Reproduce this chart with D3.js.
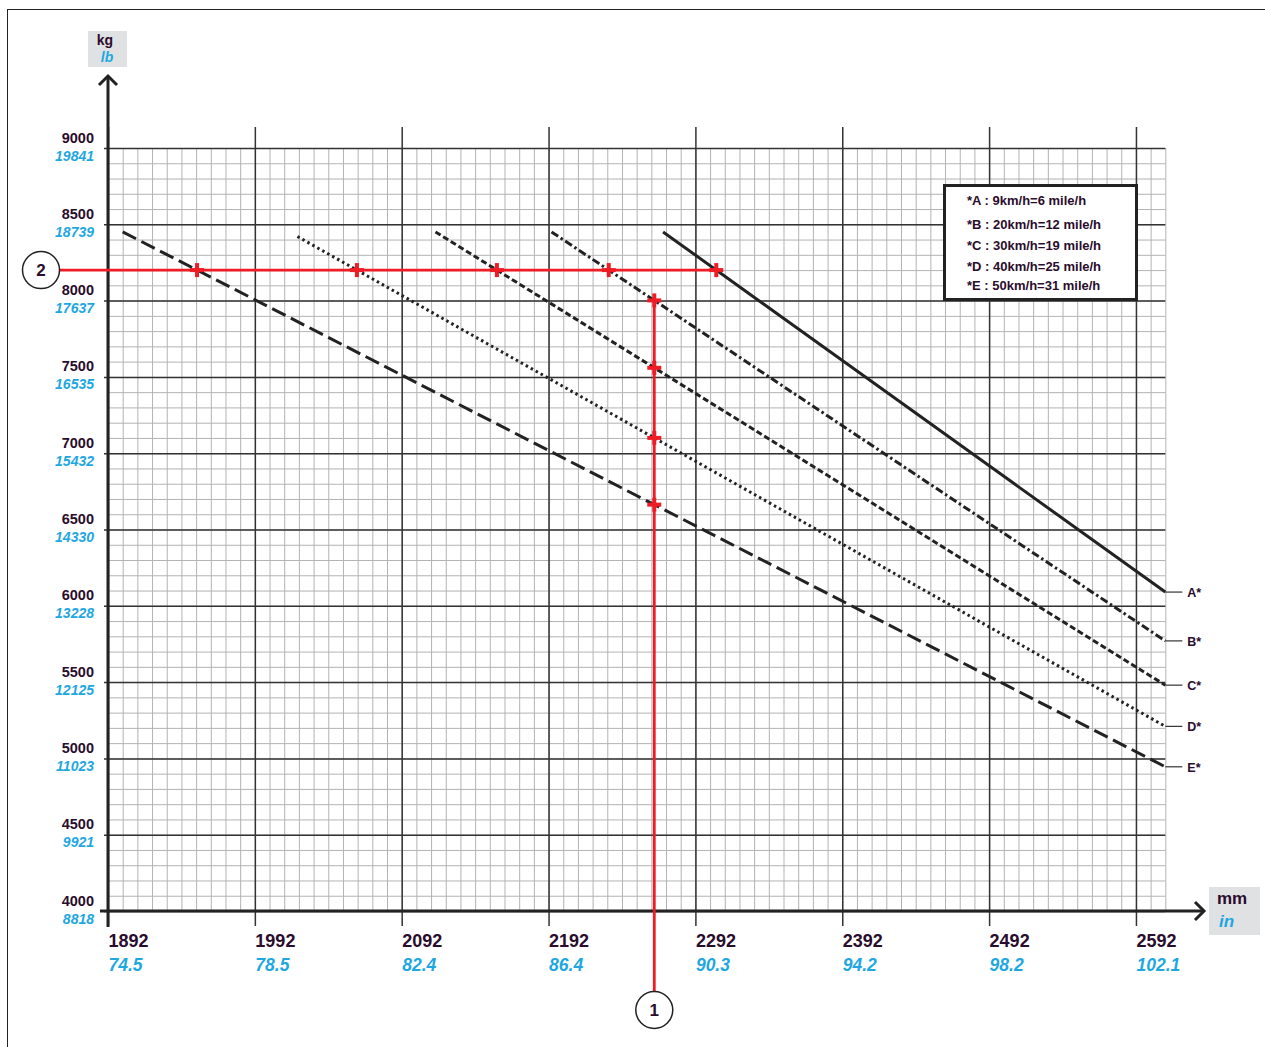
<!DOCTYPE html>
<html>
<head>
<meta charset="utf-8">
<script src="https://cdn.jsdelivr.net/npm/d3@7"></script>
<style>
  body { margin: 0; background: #fff; }
  svg { display: block; font-family: "Liberation Sans", Arial, sans-serif; }
</style>
</head>
<body>
<div id="my_dataviz"></div>
<script>
// tick labels (mm / inch on x, kg / lb on y)
var mmTicks = [1892, 1992, 2092, 2192, 2292, 2392, 2492, 2592];
var inTicks = ["74.5", "78.5", "82.4", "86.4", "90.3", "94.2", "98.2", "102.1"];
var kgTicks = [4000, 4500, 5000, 5500, 6000, 6500, 7000, 7500, 8000, 8500, 9000];
var lbTicks = ["8818", "9921", "11023", "12125", "13228", "14330", "15432", "16535", "17637", "18739", "19841"];

// speed curves (start / end points in mm, kg)
var seriesNames = ["A*", "B*", "C*", "D*", "E*"];
var legendLabels = ["*A : 9km/h=6 mile/h", "*B : 20km/h=12 mile/h", "*C : 30km/h=19 mile/h",
                    "*D : 40km/h=25 mile/h", "*E : 50km/h=31 mile/h"];
var startMm = [2270, 2194, 2115, 2021, 1902];
var startKg = [8450, 8450, 8450, 8420, 8450];
var endMm = [2612, 2612, 2612, 2612, 2612];
var endKg = [6090, 5770, 5480, 5210, 4945];

// example reading (red lines)
var readKg = 8200;
var readMm = 2264;

var width = 1265, height = 1047;
var dark = "#2a0c2c", blue = "#1ea7e1", red = "#ee1c25", ink = "#222";

var svg = d3.select("#my_dataviz").append("svg")
    .attr("width", width).attr("height", height);

// outer frame
svg.append("rect").attr("x", 7.5).attr("y", 9.5).attr("width", 1300).attr("height", 1100)
    .attr("fill", "none").attr("stroke", ink).attr("stroke-width", 1);

var x = d3.scaleLinear().domain([1892, 2612]).range([108, 108 + 720 * 1.4685]);
var y = d3.scaleLinear().domain([4000, 9000]).range([911, 148]);

var gridTop = y(9000), gridBottom = y(4000), gridLeft = x(1892), gridRight = x(2612);

// minor grid
var minorX = d3.range(1892, 2613, 10);
var minorY = d3.range(4000, 9001, 100);
svg.append("g").attr("transform", "translate(0," + gridBottom + ")")
    .call(d3.axisBottom(x).tickValues(minorX).tickSize(-(gridBottom - gridTop)).tickFormat(""))
    .call(function (g) {
        g.select(".domain").remove();
        g.selectAll("line").attr("stroke", "#b3b3b3").attr("stroke-width", 1);
    });
svg.append("g").attr("transform", "translate(" + gridLeft + ",0)")
    .call(d3.axisLeft(y).tickValues(minorY).tickSize(-(gridRight - gridLeft)).tickFormat(""))
    .call(function (g) {
        g.select(".domain").remove();
        g.selectAll("line").attr("stroke", "#b3b3b3").attr("stroke-width", 1);
    });

// major grid + tick labels on y
var yAxis = svg.append("g").attr("transform", "translate(" + gridLeft + ",0)")
    .call(d3.axisLeft(y).tickValues(kgTicks).tickSize(0).tickFormat(d3.format("d")));
yAxis.select(".domain").remove();
yAxis.selectAll(".tick line")
    .attr("x1", -4).attr("x2", gridRight - gridLeft)
    .attr("stroke", "#333").attr("stroke-width", 1.5);
yAxis.selectAll(".tick text")
    .attr("x", -14).attr("dy", null).attr("y", -6)
    .attr("fill", dark).style("font-size", "14.5px").style("font-weight", "bold")
    .style("font-family", "'Liberation Sans', Arial, sans-serif");
yAxis.selectAll(".tick").append("text")
    .attr("x", -14).attr("y", 12).attr("text-anchor", "end")
    .attr("fill", blue).style("font-size", "14px").style("font-weight", "bold").style("font-style", "italic")
    .style("font-family", "'Liberation Sans', Arial, sans-serif")
    .text(function (d, i) { return lbTicks[i]; });

// major grid + tick labels on x
var xAxis = svg.append("g").attr("transform", "translate(0," + gridBottom + ")")
    .call(d3.axisBottom(x).tickValues(mmTicks).tickSize(0).tickFormat(d3.format("d")));
xAxis.select(".domain").remove();
xAxis.selectAll(".tick line")
    .attr("y1", 15).attr("y2", -(gridBottom - gridTop) - 21)
    .attr("stroke", "#333").attr("stroke-width", 1.5);
xAxis.selectAll(".tick text")
    .attr("y", 36).attr("dy", null).attr("text-anchor", "start")
    .attr("fill", dark).style("font-size", "18px").style("font-weight", "bold")
    .style("font-family", "'Liberation Sans', Arial, sans-serif");
xAxis.selectAll(".tick").append("text")
    .attr("x", 0).attr("y", 60).attr("text-anchor", "start")
    .attr("fill", blue).style("font-size", "17.5px").style("font-weight", "bold").style("font-style", "italic")
    .style("font-family", "'Liberation Sans', Arial, sans-serif")
    .text(function (d, i) { return inTicks[i]; });

// axis lines with arrows
svg.append("line").attr("x1", gridLeft).attr("x2", gridLeft).attr("y1", gridBottom + 16).attr("y2", 76)
    .attr("stroke", ink).attr("stroke-width", 3);
svg.append("polyline").attr("points", [[gridLeft - 9, 85], [gridLeft, 76], [gridLeft + 9, 85]].join(" "))
    .attr("fill", "none").attr("stroke", ink).attr("stroke-width", 3);
svg.append("line").attr("x1", gridLeft - 8).attr("x2", 1204).attr("y1", gridBottom).attr("y2", gridBottom)
    .attr("stroke", ink).attr("stroke-width", 3);
svg.append("polyline").attr("points", [[1195, gridBottom - 9], [1204, gridBottom], [1195, gridBottom + 9]].join(" "))
    .attr("fill", "none").attr("stroke", ink).attr("stroke-width", 3);

// unit boxes
svg.append("rect").attr("x", 88).attr("y", 31).attr("width", 39).attr("height", 36).attr("fill", "#e0e1e3");
svg.append("text").attr("x", 105).attr("y", 45).attr("text-anchor", "middle")
    .attr("fill", dark).style("font-size", "14px").style("font-weight", "bold").text("kg");
svg.append("text").attr("x", 107).attr("y", 62).attr("text-anchor", "middle")
    .attr("fill", blue).style("font-size", "14px").style("font-weight", "bold").style("font-style", "italic").text("lb");
svg.append("rect").attr("x", 1209).attr("y", 887).attr("width", 51).attr("height", 48).attr("fill", "#e0e1e3");
svg.append("text").attr("x", 1217).attr("y", 904)
    .attr("fill", dark).style("font-size", "17px").style("font-weight", "bold").text("mm");
svg.append("text").attr("x", 1219).attr("y", 927)
    .attr("fill", blue).style("font-size", "17px").style("font-weight", "bold").style("font-style", "italic").text("in");

// speed lines
var dashes = [null, "8,3,2.5,3", "6,3", "2.5,3.2", "15,6"];
var lineGen = d3.line().x(function (d) { return x(d[0]); }).y(function (d) { return y(d[1]); });
var series = seriesNames.map(function (name, i) {
    return { name: name, pts: [[startMm[i], startKg[i]], [endMm[i], endKg[i]]], dash: dashes[i] };
});
svg.selectAll("path.speed").data(series).enter().append("path")
    .attr("class", "speed")
    .attr("d", function (d) { return lineGen(d.pts); })
    .attr("fill", "none").attr("stroke", ink)
    .attr("stroke-width", 3)
    .attr("stroke-dasharray", function (d) { return d.dash; });

// end labels
svg.selectAll("line.endtick").data(series).enter().append("line")
    .attr("x1", gridRight).attr("x2", gridRight + 17)
    .attr("y1", function (d) { return y(d.pts[1][1]); })
    .attr("y2", function (d) { return y(d.pts[1][1]); })
    .attr("stroke", "#333").attr("stroke-width", 1.2);
svg.selectAll("text.endlabel").data(series).enter().append("text")
    .attr("x", gridRight + 22)
    .attr("y", function (d) { return y(d.pts[1][1]) + 5; })
    .attr("fill", dark).style("font-size", "12.5px").style("font-weight", "bold")
    .text(function (d) { return d.name; });

// legend
svg.append("rect").attr("x", 944.5).attr("y", 185.5).attr("width", 192).attr("height", 114)
    .attr("fill", "#fff").attr("stroke", ink).attr("stroke-width", 3);
var legendY = [205, 229, 250, 271, 290];
svg.selectAll("text.legend").data(legendLabels).enter().append("text")
    .attr("x", 967).attr("y", function (d, i) { return legendY[i]; })
    .attr("fill", dark).style("font-size", "13px").style("font-weight", "bold")
    .text(function (d) { return d; });

// reading: intersections of the red lines with each speed line
function mmAtKg(s, kg) {
    var p = s.pts;
    return p[0][0] + (kg - p[0][1]) * (p[1][0] - p[0][0]) / (p[1][1] - p[0][1]);
}
function kgAtMm(s, mm) {
    var p = s.pts;
    return p[0][1] + (mm - p[0][0]) * (p[1][1] - p[0][1]) / (p[1][0] - p[0][0]);
}
var hCross = series.map(function (s) { return [mmAtKg(s, readKg), readKg]; });
var vCross = series.slice(1).map(function (s) { return [readMm, kgAtMm(s, readMm)]; });

var c2 = { x: 41, y: y(readKg) }, c1 = { x: x(readMm), y: 1010 }, r = 18.5;

svg.append("line")
    .attr("x1", c2.x + r).attr("x2", x(d3.max(hCross, function (d) { return d[0]; })))
    .attr("y1", y(readKg)).attr("y2", y(readKg))
    .attr("stroke", red).attr("stroke-width", 2.8);
svg.append("line")
    .attr("x1", x(readMm)).attr("x2", x(readMm))
    .attr("y1", y(d3.max(vCross, function (d) { return d[1]; }))).attr("y2", c1.y - r)
    .attr("stroke", red).attr("stroke-width", 2.8);

var crosses = hCross.concat(vCross);
var cg = svg.selectAll("g.cross").data(crosses).enter().append("g")
    .attr("class", "cross")
    .attr("transform", function (d) { return "translate(" + x(d[0]) + "," + y(d[1]) + ")"; });
cg.append("line").attr("x1", -7).attr("x2", 7).attr("stroke", red).attr("stroke-width", 4);
cg.append("line").attr("y1", -7).attr("y2", 7).attr("stroke", red).attr("stroke-width", 4);

[[c2, "2"], [c1, "1"]].forEach(function (c) {
    svg.append("circle").attr("cx", c[0].x).attr("cy", c[0].y).attr("r", r)
        .attr("fill", "#fff").attr("stroke", ink).attr("stroke-width", 1.5);
    svg.append("text").attr("x", c[0].x).attr("y", c[0].y + 6).attr("text-anchor", "middle")
        .attr("fill", dark).style("font-size", "17px").style("font-weight", "bold").text(c[1]);
});
</script>
</body>
</html>
